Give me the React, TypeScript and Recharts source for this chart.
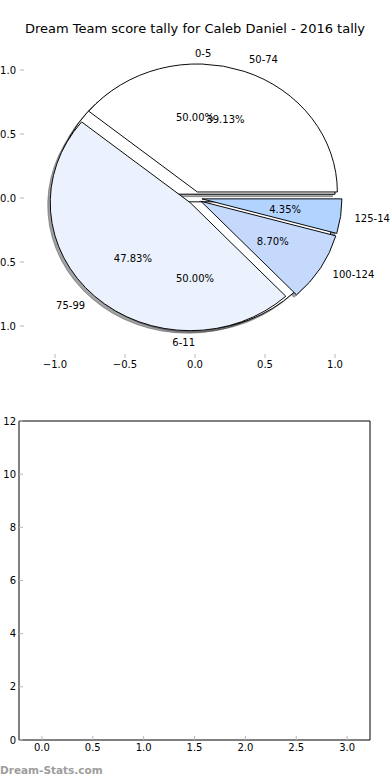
import React from 'react';
import { PieChart, Pie, Cell, ScatterChart, Scatter, XAxis, YAxis } from 'recharts';

const chartTitle = 'Dream Team score tally for Caleb Daniel - 2016 tally';
const siteMark = 'Dream-Stats.com';

// first pie, drawn underneath
const innerRanges = ['0-5', '6-11'];
const innerCounts = [1, 1];
const innerColors = ['#ffffff', '#ffffff'];

// second pie, drawn on top
const outerRanges = ['50-74', '75-99', '100-124', '125-149'];
const outerCounts = [9, 11, 2, 1];
const outerColors = ['#ffffff', '#ebf1fd', '#c5d9fd', '#b3d3ff'];

const pieAxisTicks = [-1, -0.5, 0, 0.5, 1];
const emptyXTicks = [0, 0.5, 1, 1.5, 2, 2.5, 3];
const emptyYTicks = [0, 2, 4, 6, 8, 10, 12];

const RAD = Math.PI / 180;
const UNIT = 140; // px per data unit, horizontally
const SQUASH = 128 / 140; // axes are not equal aspect so the pie is an oval
const CX = 195;
const CY = 198;
const TICK_GREY = '#b8b8b8';
const FONT = '"DejaVu Sans", Verdana, sans-serif';

const fmtSigned = (v: number) => (v < 0 ? '\u2212' : '') + Math.abs(v).toFixed(1);

const toRows = (names: string[], counts: number[]) =>
  names.map((name, i) => ({ name, value: counts[i] }));

const midAngles = (counts: number[]) => {
  const total = counts.reduce((a, b) => a + b, 0);
  let acc = 0;
  return counts.map((c) => {
    const a0 = (acc / total) * 360;
    acc += c;
    return (a0 + (acc / total) * 360) / 2;
  });
};

// matplotlib shadow: 0.3 * face colour at half alpha
const shade = (hex: string) => {
  const n = parseInt(hex.slice(1), 16);
  const r = Math.round(((n >> 16) & 255) * 0.3);
  const g = Math.round(((n >> 8) & 255) * 0.3);
  const b = Math.round((n & 255) * 0.3);
  return `rgba(${r},${g},${b},0.5)`;
};

const innerRows = toRows(innerRanges, innerCounts);
const outerRows = toRows(outerRanges, outerCounts);

// one Pie per slice so each slice can be pushed out on its own
function slicePies(id: string, rows: { name: string; value: number }[], colors: string[], explode: number, shadow: boolean) {
  const mids = midAngles(rows.map((r) => r.value));
  return rows.map((_, i) => {
    const dx = explode * UNIT * Math.cos(mids[i] * RAD) + (shadow ? -2.5 : 0);
    const dy = -explode * UNIT * Math.sin(mids[i] * RAD) + (shadow ? 2.5 / SQUASH : 0);
    return (
      <Pie
        key={`${id}-${shadow ? 's' : 'w'}-${i}`}
        data={rows}
        dataKey="value"
        nameKey="name"
        cx={CX + dx}
        cy={CY + dy}
        outerRadius={UNIT}
        startAngle={0}
        endAngle={360}
        isAnimationActive={false}
        label={false}
        labelLine={false}
      >
        {rows.map((r, j) => (
          <Cell
            key={r.name}
            fill={j !== i ? 'none' : shadow ? shade(colors[j]) : colors[j]}
            stroke={j !== i ? 'none' : shadow ? shade(colors[j]) : '#000'}
            strokeWidth={1}
          />
        ))}
      </Pie>
    );
  });
}

const labelMaker = (names: string[], explode: number) => (p: any) => {
  const m = p.midAngle as number;
  const cos = Math.cos(m * RAD);
  const sin = Math.sin(m * RAD);
  const bx = CX + explode * UNIT * cos;
  const by = CY - explode * UNIT * sin;
  const nx = bx + 1.1 * UNIT * cos;
  const ny = by - 1.1 * UNIT * sin;
  const qx = bx + 0.6 * UNIT * cos;
  const qy = by - 0.6 * UNIT * sin;
  const unsquash = `scale(1,${1 / SQUASH})`;
  return (
    <g key={`lbl-${p.index}`}>
      <text
        transform={`translate(${nx},${ny}) ${unsquash}`}
        textAnchor={cos > 0 ? 'start' : 'end'}
        dominantBaseline="central"
        fontSize={10}
        fill="#000"
      >
        {names[p.index]}
      </text>
      <text
        transform={`translate(${qx},${qy}) ${unsquash}`}
        textAnchor="middle"
        dominantBaseline="central"
        fontSize={10}
        fill="#000"
      >
        {(p.percent * 100).toFixed(2)}%
      </text>
    </g>
  );
};

function labelPie(id: string, rows: { name: string; value: number }[], names: string[], explode: number) {
  return (
    <Pie
      key={`${id}-labels`}
      data={rows}
      dataKey="value"
      nameKey="name"
      cx={CX}
      cy={CY}
      outerRadius={UNIT}
      startAngle={0}
      endAngle={360}
      isAnimationActive={false}
      label={labelMaker(names, explode)}
      labelLine={false}
    >
      {rows.map((r) => (
        <Cell key={r.name} fill="none" stroke="none" />
      ))}
    </Pie>
  );
}

const tickText = { fill: '#000', fontSize: 10 };

export default function App() {
  return (
    <div style={{ position: 'absolute', left: 0, top: 0, width: 390, height: 780, background: '#fff', fontFamily: FONT, overflow: 'hidden' }}>
      <div style={{ position: 'absolute', left: 0, top: 21, width: 390, textAlign: 'center', fontSize: 13, lineHeight: '15px', color: '#000' }}>
        {chartTitle}
      </div>

      {/* axes frame for the pie subplot */}
      <div style={{ position: 'absolute', left: 0, top: 0 }}>
        <ScatterChart width={390} height={380} margin={{ top: 0, right: 0, bottom: 0, left: 0 }}>
          <XAxis xAxisId="b" type="number" dataKey="x" domain={[-1.25, 1.25]} ticks={pieAxisTicks} interval={0} allowDataOverflow height={22}
            axisLine={false} tickLine={{ stroke: TICK_GREY }} tickSize={-4} tickMargin={7} tick={tickText} tickFormatter={fmtSigned} />
          <XAxis xAxisId="t" orientation="top" type="number" domain={[-1.25, 1.25]} ticks={pieAxisTicks} interval={0} allowDataOverflow height={38}
            axisLine={false} tickLine={{ stroke: TICK_GREY }} tickSize={-4} tick={false} />
          <YAxis yAxisId="l" type="number" dataKey="y" domain={[-1.25, 1.25]} ticks={pieAxisTicks} interval={0} allowDataOverflow width={20}
            axisLine={false} tickLine={{ stroke: TICK_GREY }} tickSize={-4} tickMargin={8} tick={tickText} tickFormatter={fmtSigned} />
          <YAxis yAxisId="r" orientation="right" type="number" domain={[-1.25, 1.25]} ticks={pieAxisTicks} interval={0} allowDataOverflow width={20}
            axisLine={false} tickLine={{ stroke: TICK_GREY }} tickSize={-4} tick={false} />
          <Scatter xAxisId="b" yAxisId="l" data={[]} isAnimationActive={false} />
        </ScatterChart>
      </div>

      {/* the two pies, squashed vertically to match the axes scale */}
      <div style={{ position: 'absolute', left: 0, top: 0, transform: `scaleY(${SQUASH})`, transformOrigin: `${CX}px ${CY}px`, pointerEvents: 'none' }}>
        <PieChart width={390} height={400} margin={{ top: 0, right: 0, bottom: 0, left: 0 }}>
          {slicePies('a', innerRows, innerColors, 0.03, true)}
          {slicePies('b', outerRows, outerColors, 0.05, true)}
          {slicePies('a', innerRows, innerColors, 0.03, false)}
          {slicePies('b', outerRows, outerColors, 0.05, false)}
          {labelPie('a', innerRows, innerRanges, 0.03)}
          {labelPie('b', outerRows, outerRanges, 0.05)}
        </PieChart>
      </div>

      {/* empty lower subplot */}
      <div style={{ position: 'absolute', left: 0, top: 381 }}>
        <ScatterChart width={390} height={380} margin={{ top: 0, right: 0, bottom: 0, left: 0 }}>
          <XAxis xAxisId="b" type="number" dataKey="x" domain={[-0.225, 3.225]} ticks={emptyXTicks} interval={0} allowDataOverflow height={21}
            axisLine={{ stroke: '#000' }} tickLine={{ stroke: TICK_GREY }} tickSize={-4} tickMargin={8} tick={tickText}
            tickFormatter={(v: number) => v.toFixed(1)} />
          <XAxis xAxisId="t" orientation="top" type="number" domain={[-0.225, 3.225]} ticks={emptyXTicks} interval={0} allowDataOverflow height={40}
            axisLine={{ stroke: '#000' }} tickLine={{ stroke: TICK_GREY }} tickSize={-4} tick={false} />
          <YAxis yAxisId="l" type="number" dataKey="y" domain={[0, 12]} ticks={emptyYTicks} interval={0} allowDataOverflow width={19}
            axisLine={{ stroke: '#000' }} tickLine={{ stroke: TICK_GREY }} tickSize={-4} tickMargin={7} tick={tickText} />
          <YAxis yAxisId="r" orientation="right" type="number" domain={[0, 12]} ticks={emptyYTicks} interval={0} allowDataOverflow width={20}
            axisLine={{ stroke: '#000' }} tickLine={{ stroke: TICK_GREY }} tickSize={-4} tick={false} />
          <Scatter xAxisId="b" yAxisId="l" data={[]} isAnimationActive={false} />
        </ScatterChart>
      </div>

      <div style={{ position: 'absolute', left: 0, top: 764, fontSize: 10.5, lineHeight: '13px', fontWeight: 'bold', color: '#9d9d9d' }}>
        {siteMark}
      </div>
    </div>
  );
}
